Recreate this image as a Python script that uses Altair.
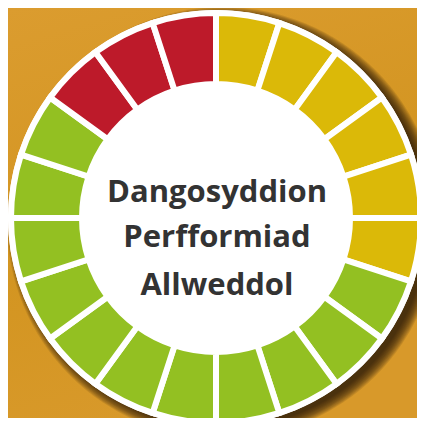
import altair as alt
import pandas as pd

# ---- data ----
segment_ids = list(range(1, 21))
segment_status = ["amber"] * 6 + ["green"] * 11 + ["red"] * 3
segment_values = [1] * 20
status_names = ["red", "amber", "green"]
status_colors = ["#BD1A2A", "#DBB908", "#93C022"]
title_lines = ["Dangosyddion", "Perfformiad", "Allweddol"]

W, H = 409, 410
CX, CY = 208, 210

seg = pd.DataFrame({"idx": segment_ids, "status": segment_status, "value": segment_values})
one = pd.DataFrame({"k": [0]})

bg = alt.Chart(one).mark_rect(
    color=alt.LinearGradient(
        gradient="linear", x1=0, y1=0, x2=0.3, y2=1,
        stops=[alt.GradientStop(color="#DB9C2F", offset=0),
               alt.GradientStop(color="#D39521", offset=0.6),
               alt.GradientStop(color="#D8992A", offset=1)]
    )
).encode(x=alt.value(0), x2=alt.value(W), y=alt.value(0), y2=alt.value(H))

shadow_layers = []
for i in range(12):
    shadow_layers.append(
        alt.Chart(one).mark_arc(theta=0, theta2=6.2832, outerRadius=205 + i,
                                color="#2A1C05", opacity=0.12)
        .encode(x=alt.value(CX + 7), y=alt.value(CY + 5))
    )

white_disc = alt.Chart(one).mark_arc(theta=0, theta2=6.2832, outerRadius=208, color="white").encode(
    x=alt.value(CX), y=alt.value(CY))

ring = alt.Chart(seg).mark_arc(innerRadius=134, outerRadius=205, stroke="white", strokeWidth=6).encode(
    theta=alt.Theta("value:Q", stack=True),
    order=alt.Order("idx:Q"),
    color=alt.Color("status:N", scale=alt.Scale(domain=status_names, range=status_colors), legend=None),
    x=alt.value(CX), y=alt.value(CY),
)

text_y = [194, 239, 287]
texts = []
for line, ty in zip(title_lines, text_y):
    texts.append(
        alt.Chart(one).mark_text(text=line, font="Open Sans", fontWeight="bold", fontSize=31,
                                 color="#333333", align="center", baseline="alphabetic")
        .encode(x=alt.value(CX + 1), y=alt.value(ty))
    )

chart = alt.layer(bg, *shadow_layers, white_disc, ring, *texts).properties(
    width=W, height=H, padding=0, autosize=alt.AutoSizeParams(type="none")
).configure_view(stroke=None).configure(background="#D6972A")

chart.save("out.html", embed_options={"renderer": "svg", "actions": False})
